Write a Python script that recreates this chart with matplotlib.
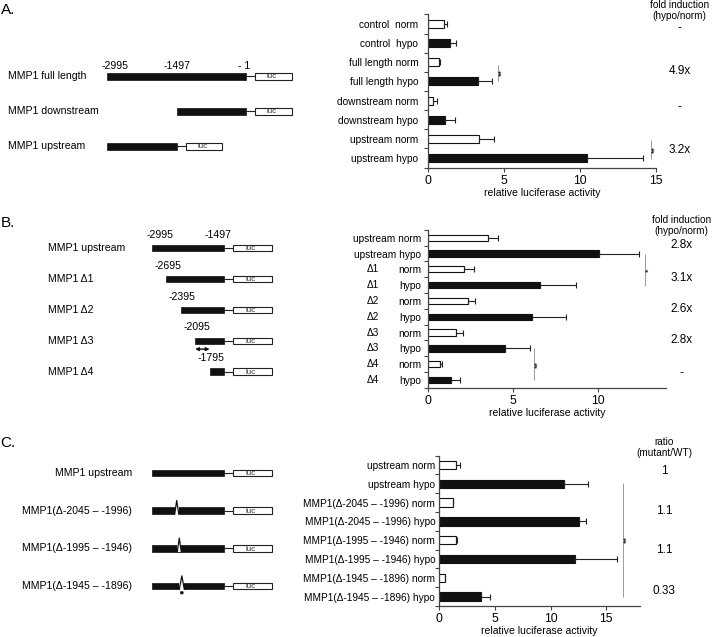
import numpy as np
import matplotlib.pyplot as plt
import matplotlib.transforms as mtransforms

plt.rcParams['font.family'] = ['Liberation Sans', 'DejaVu Sans']

W, H = 712, 637

# ---------------- panel A data ----------------
labels_A = ["control  norm", "control  hypo", "full length norm", "full length hypo",
            "downstream norm", "downstream hypo", "upstream norm", "upstream hypo"]
vals_A = [1.07, 1.43, 0.70, 3.30, 0.35, 1.14, 3.33, 10.5]
err_A = [0.20, 0.39, 0.09, 0.89, 0.25, 0.66, 1.01, 3.70]
fold_A = ["-", "4.9x", "-", "3.2x"]
fold_A_y = [0.2, 2.45, 4.35, 6.6]
sig_A = [(4.63, 2.14, 2.98, "**"), (14.68, 6.06, 7.07, "**")]

names_A = ["MMP1 full length", "MMP1 downstream", "MMP1 upstream"]
starts_A = [-2995, -1497, -2995]
ends_A = [-1, -1, -1497]

# ---------------- panel B data ----------------
labels_B = ["upstream norm", "upstream hypo", "norm", "hypo", "norm", "hypo",
            "norm", "hypo", "norm", "hypo"]
delta_B = ["", "", "Δ1", "Δ1", "Δ2", "Δ2", "Δ3", "Δ3", "Δ4", "Δ4"]
vals_B = [3.55, 10.06, 2.10, 6.59, 2.37, 6.12, 1.63, 4.55, 0.70, 1.35]
err_B = [0.55, 2.34, 0.62, 2.11, 0.41, 1.98, 0.43, 1.45, 0.14, 0.53]
fold_B = ["2.8x", "3.1x", "2.6x", "2.8x", "-"]
fold_B_y = [0.46, 2.53, 4.51, 6.49, 8.56]
sig_B = [(12.76, 1.03, 3.05, "*"), (6.24, 6.98, 9.0, "**")]

names_B = ["MMP1 upstream", "MMP1 Δ1", "MMP1 Δ2", "MMP1 Δ3", "MMP1 Δ4"]
starts_B = [-2995, -2695, -2395, -2095, -1795]
ends_B = [-1497] * 5

# ---------------- panel C data ----------------
labels_C = ["upstream norm", "upstream hypo",
            "MMP1(Δ-2045 – -1996) norm", "MMP1(Δ-2045 – -1996) hypo",
            "MMP1(Δ-1995 – -1946) norm", "MMP1(Δ-1995 – -1946) hypo",
            "MMP1(Δ-1945 – -1896) norm", "MMP1(Δ-1945 – -1896) hypo"]
vals_C = [1.50, 11.24, 1.20, 12.53, 1.47, 12.20, 0.51, 3.75]
err_C = [0.36, 2.13, 0.06, 0.67, 0.12, 3.78, 0.04, 0.78]
ratio_C = ["1", "1.1", "1.1", "0.33"]
ratio_C_y = [0.32, 2.43, 4.54, 6.68]
sig_C = [(16.55, 0.94, 7.0, "**")]

names_C = ["MMP1 upstream", "MMP1(Δ-2045 – -1996)", "MMP1(Δ-1995 – -1946)",
           "MMP1(Δ-1945 – -1896)"]
starts_C = [-2995] * 4
ends_C = [-1497] * 4
# schematic position of the deletion notch drawn in each construct
notch_C = [None, (-2518, -2435), (-2465, -2382), (-2423, -2319)]

LINKER = 195
LUC_LEN = 790

fig = plt.figure(figsize=(W / 100, H / 100), dpi=100)


def px_axes(x0, y0, x1, y1):
    return fig.add_axes([x0 / W, 1 - y1 / H, (x1 - x0) / W, (y1 - y0) / H])


def bar_chart(ax, labels, vals, errs, xmax, ticks, height, pad):
    n = len(vals)
    y = np.arange(n)
    colors = ['white' if i % 2 == 0 else '#111111' for i in range(n)]
    ax.barh(y, vals, height=height, color=colors, edgecolor='#111111',
            linewidth=0.8, zorder=2)
    ax.errorbar(vals, y, xerr=[np.zeros(n), errs], fmt='none', ecolor='#222222',
                elinewidth=0.8, capsize=2.5, capthick=0.8, zorder=3)
    ax.set_xlim(0, xmax)
    ax.set_ylim(n - 0.5, -0.5)
    ax.set_yticks(y)
    ax.set_yticklabels(labels, fontsize=7.3)
    ax.set_yticks(np.arange(n + 1) - 0.5, minor=True)
    ax.tick_params(axis='y', which='major', length=0, pad=pad)
    ax.tick_params(axis='y', which='minor', length=3, width=0.8, color='#444444')
    ax.set_xticks(ticks)
    ax.tick_params(axis='x', length=3, width=0.8, color='#444444', labelsize=8.7, pad=2)
    for s in ['top', 'right']:
        ax.spines[s].set_visible(False)
    for s in ['left', 'bottom']:
        ax.spines[s].set_color('#444444')
        ax.spines[s].set_linewidth(0.9)
    ax.set_xlabel('relative luciferase activity', fontsize=7.5, labelpad=1)
    ax.patch.set_alpha(0)


def sig_marks(ax, marks):
    for x, y0, y1, txt in marks:
        ax.vlines(x, y0, y1, color='#999999', lw=0.7, clip_on=False)
        ax.annotate(txt, xy=(x, (y0 + y1) / 2), xytext=(3, 0), textcoords='offset points',
                    rotation=90, fontsize=6.5, ha='center', va='center',
                    annotation_clip=False)


def side_text(ax, x, ys, texts, header, header_y):
    for t, yy in zip(texts, ys):
        ax.text(x, yy, t, fontsize=8.5, ha='center', va='center', clip_on=False)
    for t, yy in zip(header, header_y):
        ax.text(x, yy, t, fontsize=7.2, ha='center', va='center', clip_on=False)


def constructs(ax, starts, ends, height):
    rows = np.arange(len(starts))
    starts = np.array(starts)
    ends = np.array(ends)
    ax.barh(rows, ends - starts, left=starts, height=height, color='#111111',
            edgecolor='#111111', linewidth=0.5)
    ax.hlines(rows, ends, ends + LINKER, color='#222222', lw=0.8)
    ax.barh(rows, LUC_LEN, left=ends + LINKER, height=height, color='white',
            edgecolor='#222222', linewidth=0.8)
    for r, e in zip(rows, ends):
        ax.text(e + LINKER + LUC_LEN * 0.45, r + 0.02, 'luc', fontsize=5.8, ha='center',
                va='center', color='#333333')
    ax.axis('off')


# ---------------- panel A ----------------
axA = px_axes(428, 14.4, 655.5, 167.6)
bar_chart(axA, labels_A, vals_A, err_A, 15, [0, 5, 10, 15], 0.42, 7)
sig_marks(axA, sig_A)
side_text(axA, 16.6, fold_A_y, fold_A, ["fold induction", "(hypo/norm)"], [-0.99, -0.4])

dA = px_axes(0, 41, 360, 181)
constructs(dA, starts_A, ends_A, 0.2)
dA.set_xlim(-5300, 2455)
dA.set_ylim(3, -1)
trA = mtransforms.blended_transform_factory(dA.transAxes, dA.transData)
for i, nm in enumerate(names_A):
    dA.text(0.022, i, nm, transform=trA, fontsize=7.6, ha='left', va='center')
for pos, txt, dx, ha in [(-2995, "-2995", -4, 'left'), (-1497, "-1497", 0, 'center'),
                         (-1, "- 1", 3, 'right')]:
    dA.annotate(txt, xy=(pos, 0), xytext=(dx, 5), textcoords='offset points',
                fontsize=7.6, ha=ha, va='baseline')

# ---------------- panel B ----------------
axB = px_axes(428, 229.8, 666, 387.9)
bar_chart(axB, labels_B, vals_B, err_B, 14, [0, 5, 10], 0.4, 5)
for i, d in enumerate(delta_B):
    if d:
        axB.text(-3.24, i, d, fontsize=7.3, ha='center', va='center', clip_on=False)
sig_marks(axB, sig_B)
side_text(axB, 14.9, fold_B_y, fold_B, ["fold induction", "(hypo/norm)"], [-1.12, -0.43])

dB = px_axes(0, 217.1, 360, 402.6)
constructs(dB, starts_B, ends_B, 0.21)
dB.set_xlim(-6138, 1321)
dB.set_ylim(5, -1)
trB = mtransforms.blended_transform_factory(dB.transAxes, dB.transData)
for i, nm in enumerate(names_B):
    dB.text(0.134, i, nm, transform=trB, fontsize=7.6, ha='left', va='center')
dB.annotate("-2995", xy=(-2995, 0), xytext=(-4, 6), textcoords='offset points',
            fontsize=7.6, ha='left', va='bottom')
dB.annotate("-1497", xy=(-1497, 0), xytext=(-4, 6), textcoords='offset points',
            fontsize=7.6, ha='center', va='bottom')
for i in range(1, 5):
    dB.annotate(f"{starts_B[i]}", xy=(starts_B[i], i), xytext=(1, 6),
                textcoords='offset points', fontsize=7.6, ha='center', va='bottom')
dB.annotate('', xy=(starts_B[4], 3.27), xytext=(starts_B[3], 3.27),
            arrowprops=dict(arrowstyle='<|-|>', lw=1.0, color='#111111', mutation_scale=5,
                            shrinkA=0, shrinkB=0))

# ---------------- panel C ----------------
axC = px_axes(439.3, 455.6, 639.5, 606.1)
bar_chart(axC, labels_C, vals_C, err_C, 18, [0, 5, 10, 15], 0.45, 3)
sig_marks(axC, sig_C)
side_text(axC, 20.2, ratio_C_y, ratio_C, ["ratio", "(mutant/WT)"], [-1.22, -0.66])

dC = px_axes(0, 435.3, 360, 623.7)
constructs(dC, starts_C, ends_C, 0.18)
dC.set_xlim(-6138, 1321)
dC.set_ylim(4, -1)
trC = mtransforms.blended_transform_factory(dC.transAxes, dC.transData)
for i, nm in enumerate(names_C):
    dC.text(0.367, i, nm, transform=trC, fontsize=7.6, ha='right', va='center')
for i, nt in enumerate(notch_C):
    if nt is None:
        continue
    g0, g1 = nt
    dC.barh(i, g1 - g0, left=g0, height=0.22, color='white', edgecolor='none')
    dC.plot([g0, (g0 + g1) / 2, g1], [i + 0.09, i - 0.27, i + 0.09], color='#111111', lw=0.9)
g0, g1 = notch_C[3]
dC.annotate('', xy=(g1, 3.18), xytext=(g0, 3.18),
            arrowprops=dict(arrowstyle='<->', lw=0.8, color='#111111', mutation_scale=4,
                            shrinkA=0, shrinkB=0))

# panel letters
for letter, yy in [("A.", 10), ("B.", 223), ("C.", 443)]:
    fig.text(0.5 / W, 1 - yy / H, letter, fontsize=11, ha='left', va='center')

fig.savefig("out.png", dpi=100)
